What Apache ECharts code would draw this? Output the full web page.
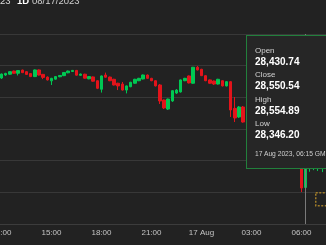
<!DOCTYPE html>
<html>
<head>
<meta charset="utf-8">
<script src="https://cdn.jsdelivr.net/npm/echarts@6/dist/echarts.min.js"></script>
<style>
html,body{margin:0;padding:0;background:#222222;overflow:hidden;}
#c{width:326px;height:245px;}
</style>
</head>
<body>
<div id="c"></div>
<script>
// 15-minute candles, 16 Aug 2023 11:45 → 17 Aug 2023 07:30 (GMT)
var categories = ['11:45','12:00','12:15','12:30','12:45','13:00','13:15','13:30','13:45','14:00','14:15','14:30','14:45',
'15:00','15:15','15:30','15:45','16:00','16:15','16:30','16:45','17:00','17:15','17:30','17:45',
'18:00','18:15','18:30','18:45','19:00','19:15','19:30','19:45','20:00','20:15','20:30','20:45',
'21:00','21:15','21:30','21:45','22:00','22:15','22:30','22:45','23:00','23:15','23:30','23:45',
'00:00','00:15','00:30','00:45','01:00','01:15','01:30','01:45','02:00','02:15','02:30','02:45',
'03:00','03:15','03:30','03:45','04:00','04:15','04:30','04:45','05:00','05:15','05:30','05:45',
'06:00','06:15','06:30','06:45','07:00','07:15','07:30'];
var openP  = [29110,29122,29141,29146,29166,29152,29172,29162,29150,29131,29173,29145,29128,
29104,29115,29130,29137,29155,29163,29170,29139,29146,29117,29129,29105,
29051,29141,29128,29114,29089,29084,29046,29067,29089,29105,29116,29141,
29120,29105,29078,28983,28926,28977,29027,29034,29105,29135,29089,29190,
29177,29137,29110,29103,29084,29105,29072,29099,28930,28876,28939,28844,
28880,28850,28800,28830,28760,28740,28770,28720,28690,28700,28640,28600,
28560,28430.74,28550,28580,28585,28605,28620];
var closeP = [29120,29147,29151,29162,29152,29169,29156,29145,29131,29173,29141,29126,29110,
29120,29131,29138,29157,29166,29170,29140,29147,29121,29131,29102,29057,
29135,29127,29105,29078,29072,29046,29072,29095,29114,29120,29141,29120,
29105,29072,28977,28933,28989,29042,29046,29110,29120,29091,29190,29173,
29137,29105,29089,29084,29114,29072,29099,28920,28870,28939,28844,28880,
28850,28800,28830,28760,28740,28770,28720,28690,28700,28640,28600,28560,
28427,28550.54,28580,28600,28610,28620,28630];
var lowP   = [29105,29116,29135,29143,29149,29138,29153,29142,29128,29128,29138,29115,29106,
29078,29112,29127,29134,29152,29160,29137,29136,29118,29114,29099,29052,
29030,29124,29102,29075,29046,29043,29025,29064,29086,29102,29113,29117,
29102,29069,28958,28926,28920,28971,29021,29030,29102,29088,29086,29170,
29134,29102,29086,29078,29081,29069,29069,28876,28844,28870,28840,28830,
28840,28790,28780,28750,28720,28730,28705,28670,28660,28620,28585,28552,
28402,28346.20,28530,28540,28535,28528,28560];
var highP  = [29125,29150,29155,29165,29169,29172,29175,29165,29152,29176,29176,29148,29132,
29123,29134,29141,29160,29169,29173,29173,29150,29149,29134,29132,29108,
29138,29156,29131,29117,29092,29097,29075,29098,29117,29123,29144,29144,
29123,29108,29084,28986,28992,29045,29052,29113,29123,29138,29192,29198,
29180,29140,29113,29106,29117,29108,29102,29102,29002,28945,28945,28895,
28900,28860,28845,28840,28775,28790,28780,28730,28715,28710,28650,28610,
28570,28554.89,28590,28610,28620,28630,28640];
var hoverIndex = 74;
var hoverDate = '17 Aug 2023, 06:15 GMT';
var headerTexts = ['23', '1D', '08/17/2023'];

var candles = categories.map(function(c, i){ return [openP[i], closeP[i], lowP[i], highP[i]]; });
function fmt(v){ return v.toLocaleString('en-US', {minimumFractionDigits:2, maximumFractionDigits:2}); }

var chart = echarts.init(document.getElementById('c'), null, {renderer:'canvas'});
var FONT = '"Liberation Sans", Arial, Helvetica, sans-serif';
var CSSFONT = FONT.replace(/"/g, "'");
chart.setOption({
  animation: false,
  backgroundColor: '#222222',
  textStyle: {fontFamily: FONT},
  grid: {left: -4.75, right: -2.58, top: 34, bottom: 21, containLabel: false, outerBoundsMode: 'none'},
  xAxis: {
    type: 'category',
    data: categories,
    boundaryGap: true,
    axisLine: {show: true, lineStyle: {color: '#3c3c3c', width: 1}},
    axisTick: {show: false},
    splitLine: {show: false},
    axisLabel: {
      color: '#c4c4c4', fontSize: 8, margin: 5, fontFamily: FONT, hideOverlap: false,
      interval: function(i, v){ var h = parseInt(v.slice(0,2),10); return v.slice(3) === '00' && h % 3 === 0; },
      formatter: function(v){ return v === '00:00' ? '17 Aug' : v; }
    }
  },
  yAxis: {
    type: 'value',
    min: 28200, max: 29400, interval: 200,
    axisLine: {show: false}, axisTick: {show: false}, axisLabel: {show: false},
    splitLine: {show: true, lineStyle: {color: '#383838', width: 1}}
  },
  tooltip: {
    trigger: 'axis',
    triggerOn: 'none',
    alwaysShowContent: true,
    transitionDuration: 0,
    position: [246, 35],
    backgroundColor: '#262626',
    borderColor: '#22803c',
    borderWidth: 1,
    padding: [10, 24, 9, 8],
    extraCssText: 'box-shadow:none;border-radius:0;',
    axisPointer: {type: 'line', lineStyle: {color: '#7a7a7a', width: 1, type: 'solid'}, label: {show: false}},
    formatter: function(params){
      var i = params[0].dataIndex;
      var lab = 'font-size:8px;line-height:10px;color:#d2d2d2;font-family:' + CSSFONT + ';';
      var val = 'font-size:10px;line-height:12px;font-weight:bold;color:#ffffff;margin-bottom:2.4px;font-family:' + CSSFONT + ';';
      var rows = [['Open', openP[i]], ['Close', closeP[i]], ['High', highP[i]], ['Low', lowP[i]]];
      var h = '';
      rows.forEach(function(r){ h += '<div style="' + lab + '">' + r[0] + '</div><div style="' + val + '">' + fmt(r[1]) + '</div>'; });
      h += '<div style="font-size:6.7px;line-height:10px;color:#cfcfcf;margin-top:7.5px;white-space:nowrap;font-family:' + CSSFONT + ';">' + hoverDate + '</div>';
      return h;
    }
  },
  graphic: [
    {type: 'text', left: 0, top: -4, style: {text: headerTexts[0], font: '9.5px ' + FONT, fill: '#dcdcdc'}},
    {type: 'text', left: 17, top: -4, style: {text: headerTexts[1], font: 'bold 9.5px ' + FONT, fill: '#ffffff'}},
    {type: 'text', left: 32, top: -4, style: {text: headerTexts[2], font: '9.5px ' + FONT, fill: '#d0d0d0'}},
    {type: 'rect', left: 315, top: 192, shape: {x: 0, y: 0, width: 13, height: 13}, style: {fill: 'rgba(0,0,0,0)', stroke: '#a07c28', lineWidth: 1.5, lineDash: [2, 1.5]}, z: 10}
  ],
  series: [{
    type: 'candlestick',
    data: candles,
    barWidth: 3,
    emphasis: {disabled: true},
    itemStyle: {
      color: '#00c853', color0: '#e3141b',
      borderColor: '#00c853', borderColor0: '#e3141b', borderWidth: 1
    }
  }]
});
chart.dispatchAction({type: 'showTip', seriesIndex: 0, dataIndex: hoverIndex});
</script>
</body>
</html>
